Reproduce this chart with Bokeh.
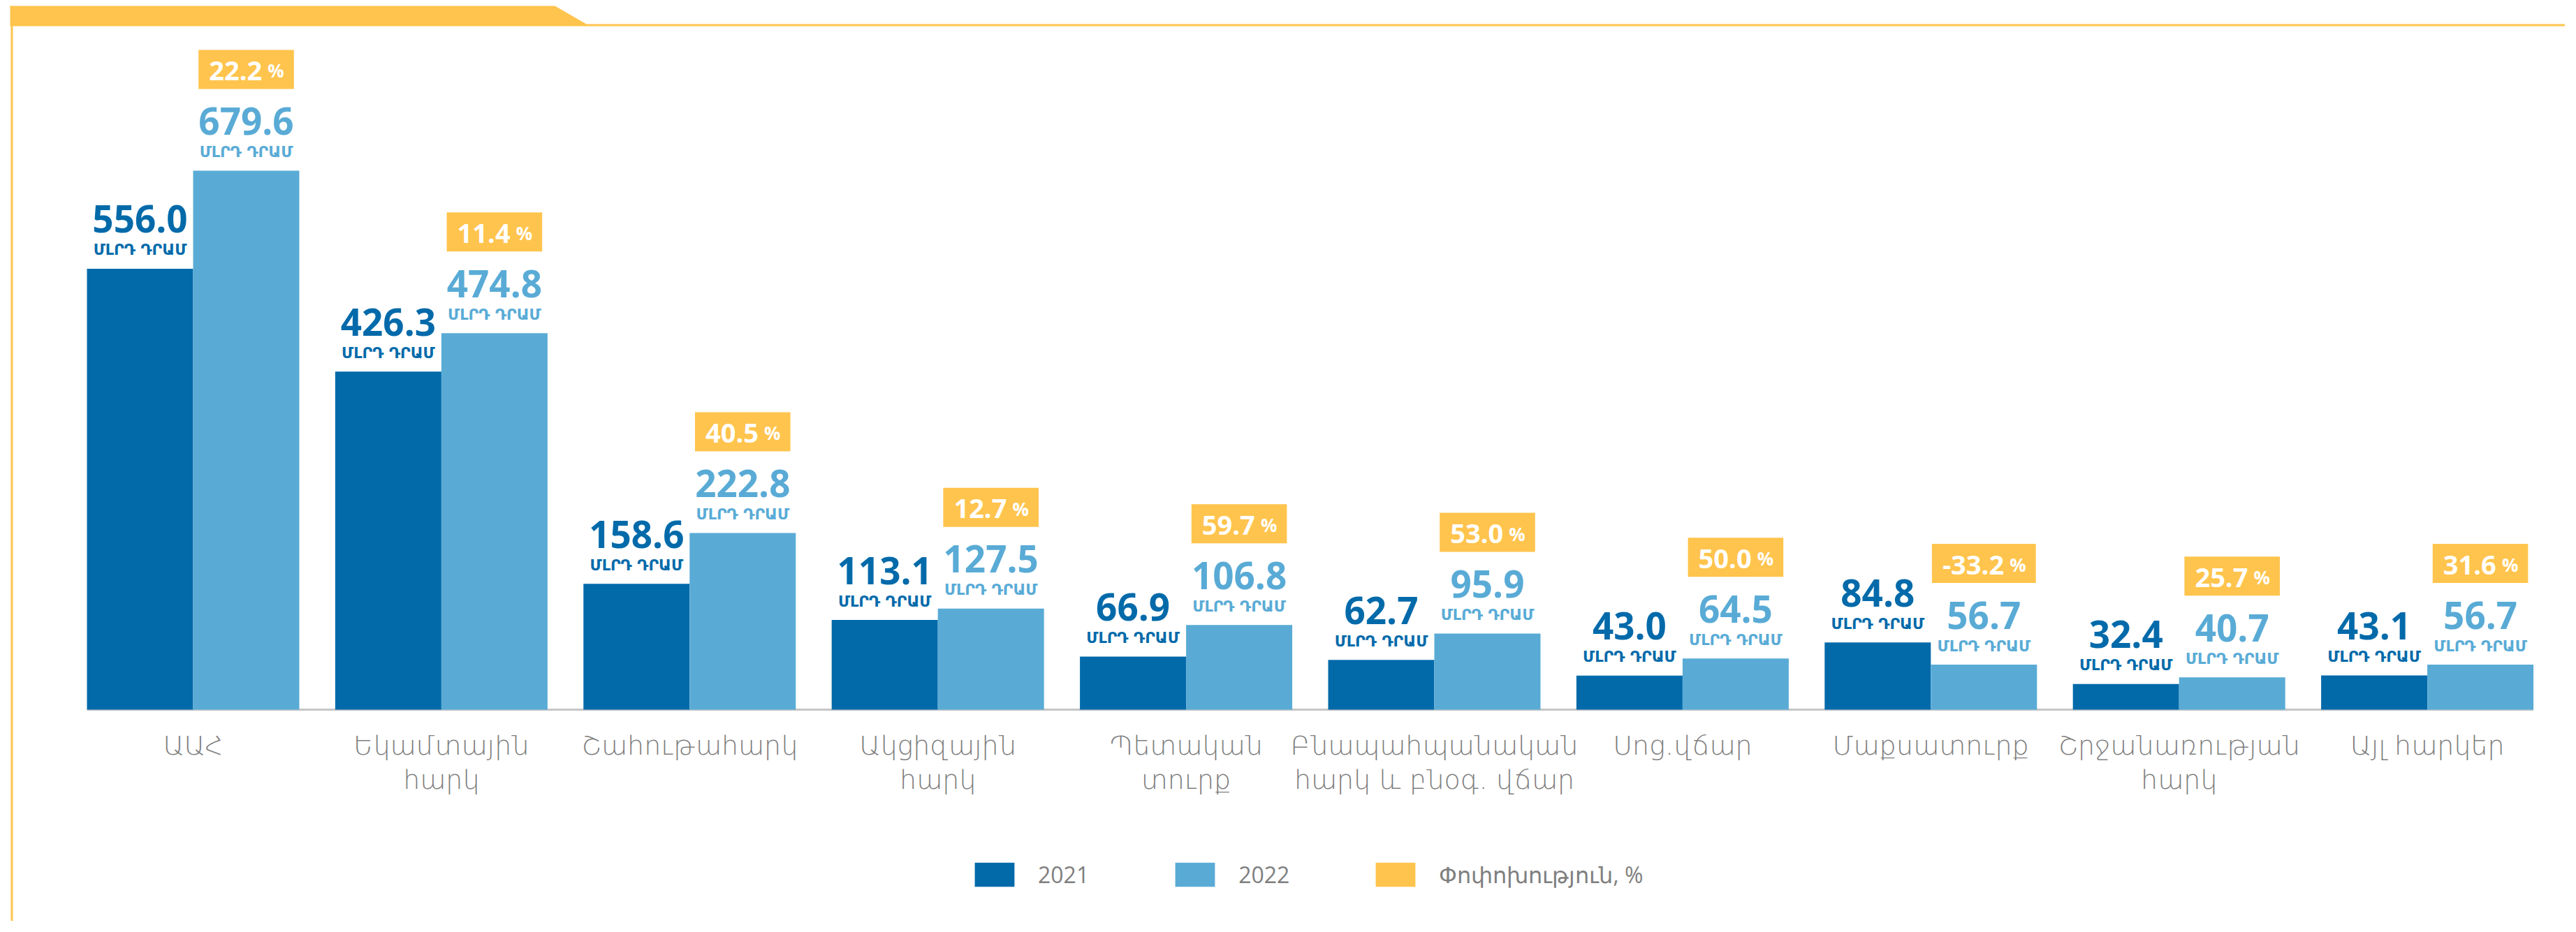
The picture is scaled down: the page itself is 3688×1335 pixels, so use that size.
from bokeh.plotting import figure
from bokeh.models import Range1d, ColumnDataSource, Legend, LegendItem
from bokeh.core.properties import value
from bokeh.embed import file_html
from bokeh.resources import INLINE

# ---------------- data ----------------
categories = [
    "ԱԱՀ",
    "Եկամտային\nհարկ",
    "Շահութահարկ",
    "Ակցիզային\nհարկ",
    "Պետական\nտուրք",
    "Բնապահպանական\nհարկ և բնօգ. վճար",
    "Սոց.վճար",
    "Մաքսատուրք",
    "Շրջանառության\nհարկ",
    "Այլ հարկեր",
]
values_2021 = [556.0, 426.3, 158.6, 113.1, 66.9, 62.7, 43.0, 84.8, 32.4, 43.1]
values_2022 = [679.6, 474.8, 222.8, 127.5, 106.8, 95.9, 64.5, 56.7, 40.7, 56.7]
change_pct = [22.2, 11.4, 40.5, 12.7, 59.7, 53.0, 50.0, -33.2, 25.7, 31.6]
series_names = ["2021", "2022", "Փոփոխություն, %"]
unit_label = "ՄԼՐԴ ԴՐԱՄ"

# ---------------- style ----------------
DARK = "#036aaa"
LIGHT = "#59abd6"
ORANGE = "#ffc44d"
GRAY_TEXT = "#7f7f7f"
NUM_FONT = value("Open Sans")
ARM_FONT = value("DejaVu Sans")
ARM_LIGHT = value("DejaVu Sans Light, DejaVu Sans")

W, H = 3672, 1319
PX_PER_UNIT = 1.136
BASE_FROM_BOTTOM = 303
CAT_FIRST = 276.0
CAT_STEP = 355.4
BAR_W = 152.0 / CAT_STEP

y_start = -BASE_FROM_BOTTOM / PX_PER_UNIT
y_end = y_start + H / PX_PER_UNIT
x_start = -CAT_FIRST / CAT_STEP
x_end = x_start + W / CAT_STEP

p = figure(width=W, height=H, x_range=Range1d(x_start, x_end),
           y_range=Range1d(y_start, y_end), output_backend="svg",
           toolbar_location=None, min_border=0,
           x_axis_location=None, y_axis_location=None)
p.grid.visible = False
p.outline_line_color = None
p.background_fill_color = "white"
p.border_fill_color = "white"

p.extra_x_ranges = {"px": Range1d(0, W)}
p.extra_y_ranges = {"px": Range1d(H, 0)}

# decorative frame
p.patch(x=[14, 794, 839, W, W, 14], y=[8, 8, 34, 34, 37, 37],
        x_range_name="px", y_range_name="px", color=ORANGE, line_width=0)
p.quad(left=15, right=18, top=8, bottom=H, x_range_name="px",
       y_range_name="px", color=ORANGE, line_width=0)

# ---------------- derived columns ----------------
idx = list(range(len(categories)))
digit_w = {c: 0.572 for c in "0123456789"}
digit_w.update({".": 0.286, "-": 0.322})
PCT_NUM_SIZE = 38
PCT_SIGN_SIZE = 26
PCT_SIGN_W = 0.866 * PCT_SIGN_SIZE
GAP = 8
pct_txt = [f"{v:.1f}" for v in change_pct]
num_w = [sum(digit_w[c] for c in t) * PCT_NUM_SIZE for t in pct_txt]
content_w = [w + GAP + PCT_SIGN_W for w in num_w]

src = ColumnDataSource(dict(
    x21=[i - BAR_W / 2 for i in idx],
    x22=[i + BAR_W / 2 for i in idx],
    v21=values_2021,
    v22=values_2022,
    t21=[f"{v:.1f}" for v in values_2021],
    t22=[f"{v:.1f}" for v in values_2022],
    unit=[unit_label] * len(idx),
    box_y=[v + 145 / PX_PER_UNIT for v in values_2022],
    box_w=[c + 30 for c in content_w],
    pct=pct_txt,
    pct_sign=["%"] * len(idx),
    num_off=[-c / 2 for c in content_w],
    sign_off=[-c / 2 + w + GAP for c, w in zip(content_w, num_w)],
))

# baseline
p.segment(x0=idx[0] - BAR_W, y0=0, x1=idx[-1] + BAR_W, y1=0,
          line_color="#c6c6c6", line_width=3)

r21 = p.vbar(x="x21", top="v21", bottom=0, width=BAR_W, fill_color=DARK,
             line_color=None, source=src)
r22 = p.vbar(x="x22", top="v22", bottom=0, width=BAR_W, fill_color=LIGHT,
             line_color=None, source=src)

# value labels
for xcol, vcol, tcol, col in (("x21", "v21", "t21", DARK), ("x22", "v22", "t22", LIGHT)):
    p.text(x=xcol, y=vcol, text=tcol, source=src, text_font=NUM_FONT,
           text_font_style="bold", text_font_size="53px", text_color=col,
           text_align="center", text_baseline="alphabetic", y_offset=-71)
    p.text(x=xcol, y=vcol, text="unit", source=src, text_font=ARM_FONT,
           text_font_style="bold", text_font_size="22px", text_color=col,
           text_align="center", text_baseline="alphabetic", y_offset=-27)

# change boxes
rbox = p.rect(x="x22", y="box_y", width="box_w", height=56, width_units="screen",
              height_units="screen", fill_color=ORANGE, line_color=None, source=src)
p.text(x="x22", y="v22", text="pct", source=src, text_font=NUM_FONT,
       text_font_style="bold", text_font_size=f"{PCT_NUM_SIZE}px",
       text_color="white", text_align="left", text_baseline="alphabetic",
       x_offset="num_off", y_offset=-143)
p.text(x="x22", y="v22", text="pct_sign", source=src, text_font=NUM_FONT,
       text_font_style="bold", text_font_size=f"{PCT_SIGN_SIZE}px",
       text_color="white", text_align="left", text_baseline="alphabetic",
       x_offset="sign_off", y_offset=-143)

# category labels
p.text(x=idx, y=[0] * len(idx), text=categories, text_font=ARM_LIGHT,
       text_font_size="38px", text_color=GRAY_TEXT, text_align="center",
       text_baseline="top", y_offset=29, text_line_height=1.12)

legend = Legend(items=[LegendItem(label=series_names[0], renderers=[r21]),
                       LegendItem(label=series_names[1], renderers=[r22]),
                       LegendItem(label=series_names[2], renderers=[rbox])],
                orientation="horizontal", location=(1388, 45),
                glyph_width=71, glyph_height=43, label_height=43,
                label_standoff=27, spacing=116, padding=0, margin=0,
                border_line_color=None, background_fill_alpha=0,
                label_text_font="Open Sans", label_text_font_size="32px",
                label_text_color=GRAY_TEXT)
p.add_layout(legend)

open("out.html", "w").write(file_html(p, INLINE))
